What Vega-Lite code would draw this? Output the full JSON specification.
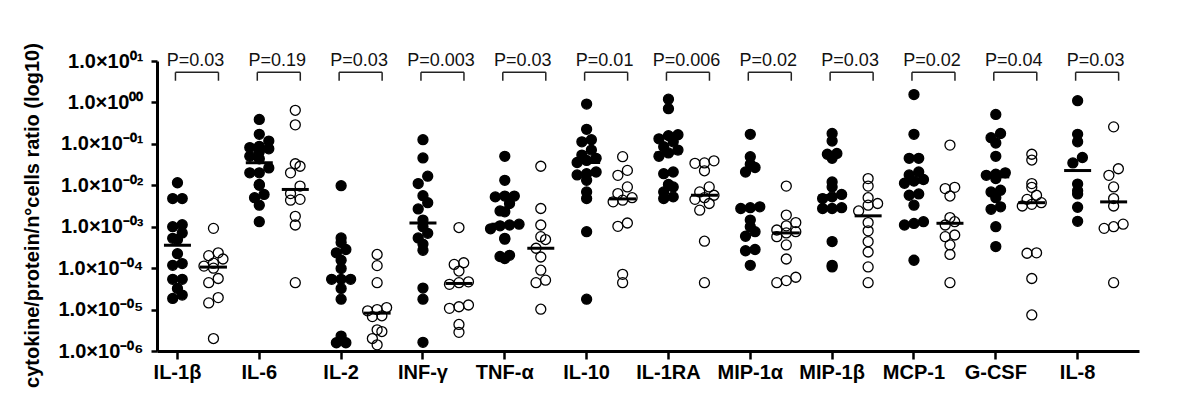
{
  "$schema": "https://vega.github.io/schema/vega-lite/v6.json",
  "width": 982,
  "height": 290,
  "autosize": {"type": "none"},
  "padding": {"left": 157, "top": 61, "right": 61, "bottom": 59},
  "background": "white",
  "config": {
    "view": {"stroke": null},
    "font": "Liberation Sans",
    "axis": {"grid": false, "domainColor": "black", "tickColor": "black", "labelColor": "black", "titleColor": "black", "labelFont": "Liberation Sans", "titleFont": "Liberation Sans"},
    "axisX": {"labelAngle": 0, "labelFontSize": 20, "labelFontWeight": "bold", "labelPadding": 3, "tickSize": 8, "tickWidth": 2.5, "domainWidth": 3},
    "axisY": {
      "labelFontSize": 20, "labelFontWeight": "bold", "labelPadding": 8,
      "tickSize": 6, "tickWidth": 2.5, "domainWidth": 3,
      "titleFontSize": 20, "titleFontWeight": "bold",
      "titleX": -119, "titleY": 154, "titleAngle": -90, "titleAlign": "center", "titleBaseline": "alphabetic"
    }
  },
  "datasets": {
    "points": [
      {"cytokine": "IL-1β", "group": "Group 1", "value": 0.0115},
      {"cytokine": "IL-1β", "group": "Group 1", "value": 0.00479},
      {"cytokine": "IL-1β", "group": "Group 1", "value": 0.00479},
      {"cytokine": "IL-1β", "group": "Group 1", "value": 0.00112},
      {"cytokine": "IL-1β", "group": "Group 1", "value": 0.001},
      {"cytokine": "IL-1β", "group": "Group 1", "value": 0.000708},
      {"cytokine": "IL-1β", "group": "Group 1", "value": 0.000525},
      {"cytokine": "IL-1β", "group": "Group 1", "value": 0.00049},
      {"cytokine": "IL-1β", "group": "Group 1", "value": 0.000224},
      {"cytokine": "IL-1β", "group": "Group 1", "value": 0.000129},
      {"cytokine": "IL-1β", "group": "Group 1", "value": 0.000117},
      {"cytokine": "IL-1β", "group": "Group 1", "value": 5.37e-5},
      {"cytokine": "IL-1β", "group": "Group 1", "value": 5.37e-5},
      {"cytokine": "IL-1β", "group": "Group 1", "value": 3.24e-5},
      {"cytokine": "IL-1β", "group": "Group 1", "value": 2.24e-5},
      {"cytokine": "IL-1β", "group": "Group 1", "value": 1.86e-5},
      {"cytokine": "IL-1β", "group": "Group 2", "value": 0.000912},
      {"cytokine": "IL-1β", "group": "Group 2", "value": 0.000234},
      {"cytokine": "IL-1β", "group": "Group 2", "value": 0.0002},
      {"cytokine": "IL-1β", "group": "Group 2", "value": 0.000166},
      {"cytokine": "IL-1β", "group": "Group 2", "value": 0.000132},
      {"cytokine": "IL-1β", "group": "Group 2", "value": 0.000112},
      {"cytokine": "IL-1β", "group": "Group 2", "value": 0.0001},
      {"cytokine": "IL-1β", "group": "Group 2", "value": 5.62e-5},
      {"cytokine": "IL-1β", "group": "Group 2", "value": 4.47e-5},
      {"cytokine": "IL-1β", "group": "Group 2", "value": 1.95e-5},
      {"cytokine": "IL-1β", "group": "Group 2", "value": 1.45e-5},
      {"cytokine": "IL-1β", "group": "Group 2", "value": 2.0e-6},
      {"cytokine": "IL-6", "group": "Group 1", "value": 0.389},
      {"cytokine": "IL-6", "group": "Group 1", "value": 0.17},
      {"cytokine": "IL-6", "group": "Group 1", "value": 0.117},
      {"cytokine": "IL-6", "group": "Group 1", "value": 0.0871},
      {"cytokine": "IL-6", "group": "Group 1", "value": 0.0813},
      {"cytokine": "IL-6", "group": "Group 1", "value": 0.0759},
      {"cytokine": "IL-6", "group": "Group 1", "value": 0.0646},
      {"cytokine": "IL-6", "group": "Group 1", "value": 0.0501},
      {"cytokine": "IL-6", "group": "Group 1", "value": 0.0437},
      {"cytokine": "IL-6", "group": "Group 1", "value": 0.0263},
      {"cytokine": "IL-6", "group": "Group 1", "value": 0.02},
      {"cytokine": "IL-6", "group": "Group 1", "value": 0.02},
      {"cytokine": "IL-6", "group": "Group 1", "value": 0.0105},
      {"cytokine": "IL-6", "group": "Group 1", "value": 0.01},
      {"cytokine": "IL-6", "group": "Group 1", "value": 0.00603},
      {"cytokine": "IL-6", "group": "Group 1", "value": 0.00501},
      {"cytokine": "IL-6", "group": "Group 1", "value": 0.00331},
      {"cytokine": "IL-6", "group": "Group 1", "value": 0.00132},
      {"cytokine": "IL-6", "group": "Group 2", "value": 0.646},
      {"cytokine": "IL-6", "group": "Group 2", "value": 0.288},
      {"cytokine": "IL-6", "group": "Group 2", "value": 0.0331},
      {"cytokine": "IL-6", "group": "Group 2", "value": 0.0288},
      {"cytokine": "IL-6", "group": "Group 2", "value": 0.02},
      {"cytokine": "IL-6", "group": "Group 2", "value": 0.00955},
      {"cytokine": "IL-6", "group": "Group 2", "value": 0.00631},
      {"cytokine": "IL-6", "group": "Group 2", "value": 0.00457},
      {"cytokine": "IL-6", "group": "Group 2", "value": 0.00437},
      {"cytokine": "IL-6", "group": "Group 2", "value": 0.00178},
      {"cytokine": "IL-6", "group": "Group 2", "value": 0.0011},
      {"cytokine": "IL-6", "group": "Group 2", "value": 4.47e-5},
      {"cytokine": "IL-2", "group": "Group 1", "value": 0.00977},
      {"cytokine": "IL-2", "group": "Group 1", "value": 0.000537},
      {"cytokine": "IL-2", "group": "Group 1", "value": 0.000417},
      {"cytokine": "IL-2", "group": "Group 1", "value": 0.000282},
      {"cytokine": "IL-2", "group": "Group 1", "value": 0.000234},
      {"cytokine": "IL-2", "group": "Group 1", "value": 0.000155},
      {"cytokine": "IL-2", "group": "Group 1", "value": 9.77e-5},
      {"cytokine": "IL-2", "group": "Group 1", "value": 5.37e-5},
      {"cytokine": "IL-2", "group": "Group 1", "value": 5.37e-5},
      {"cytokine": "IL-2", "group": "Group 1", "value": 5.37e-5},
      {"cytokine": "IL-2", "group": "Group 1", "value": 3.24e-5},
      {"cytokine": "IL-2", "group": "Group 1", "value": 1.78e-5},
      {"cytokine": "IL-2", "group": "Group 1", "value": 2.29e-6},
      {"cytokine": "IL-2", "group": "Group 1", "value": 1.58e-6},
      {"cytokine": "IL-2", "group": "Group 1", "value": 1.58e-6},
      {"cytokine": "IL-2", "group": "Group 2", "value": 0.000214},
      {"cytokine": "IL-2", "group": "Group 2", "value": 0.000115},
      {"cytokine": "IL-2", "group": "Group 2", "value": 4.47e-5},
      {"cytokine": "IL-2", "group": "Group 2", "value": 1.12e-5},
      {"cytokine": "IL-2", "group": "Group 2", "value": 1.0e-5},
      {"cytokine": "IL-2", "group": "Group 2", "value": 9.33e-6},
      {"cytokine": "IL-2", "group": "Group 2", "value": 7.08e-6},
      {"cytokine": "IL-2", "group": "Group 2", "value": 6.76e-6},
      {"cytokine": "IL-2", "group": "Group 2", "value": 3.24e-6},
      {"cytokine": "IL-2", "group": "Group 2", "value": 2.95e-6},
      {"cytokine": "IL-2", "group": "Group 2", "value": 2.0e-6},
      {"cytokine": "IL-2", "group": "Group 2", "value": 1.41e-6},
      {"cytokine": "INF-γ", "group": "Group 1", "value": 0.126},
      {"cytokine": "INF-γ", "group": "Group 1", "value": 0.0457},
      {"cytokine": "INF-γ", "group": "Group 1", "value": 0.0166},
      {"cytokine": "INF-γ", "group": "Group 1", "value": 0.011},
      {"cytokine": "INF-γ", "group": "Group 1", "value": 0.00562},
      {"cytokine": "INF-γ", "group": "Group 1", "value": 0.0038},
      {"cytokine": "INF-γ", "group": "Group 1", "value": 0.00269},
      {"cytokine": "INF-γ", "group": "Group 1", "value": 0.00145},
      {"cytokine": "INF-γ", "group": "Group 1", "value": 0.001},
      {"cytokine": "INF-γ", "group": "Group 1", "value": 0.000692},
      {"cytokine": "INF-γ", "group": "Group 1", "value": 0.000537},
      {"cytokine": "INF-γ", "group": "Group 1", "value": 0.00038},
      {"cytokine": "INF-γ", "group": "Group 1", "value": 0.000269},
      {"cytokine": "INF-γ", "group": "Group 1", "value": 3.31e-5},
      {"cytokine": "INF-γ", "group": "Group 1", "value": 1.78e-5},
      {"cytokine": "INF-γ", "group": "Group 1", "value": 1.62e-6},
      {"cytokine": "INF-γ", "group": "Group 2", "value": 0.000955},
      {"cytokine": "INF-γ", "group": "Group 2", "value": 0.000135},
      {"cytokine": "INF-γ", "group": "Group 2", "value": 0.000123},
      {"cytokine": "INF-γ", "group": "Group 2", "value": 8.51e-5},
      {"cytokine": "INF-γ", "group": "Group 2", "value": 4.68e-5},
      {"cytokine": "INF-γ", "group": "Group 2", "value": 4.47e-5},
      {"cytokine": "INF-γ", "group": "Group 2", "value": 4.07e-5},
      {"cytokine": "INF-γ", "group": "Group 2", "value": 1.29e-5},
      {"cytokine": "INF-γ", "group": "Group 2", "value": 1.17e-5},
      {"cytokine": "INF-γ", "group": "Group 2", "value": 1.07e-5},
      {"cytokine": "INF-γ", "group": "Group 2", "value": 4.37e-6},
      {"cytokine": "INF-γ", "group": "Group 2", "value": 2.82e-6},
      {"cytokine": "TNF-α", "group": "Group 1", "value": 0.0501},
      {"cytokine": "TNF-α", "group": "Group 1", "value": 0.0132},
      {"cytokine": "TNF-α", "group": "Group 1", "value": 0.0055},
      {"cytokine": "TNF-α", "group": "Group 1", "value": 0.0055},
      {"cytokine": "TNF-α", "group": "Group 1", "value": 0.00525},
      {"cytokine": "TNF-α", "group": "Group 1", "value": 0.00363},
      {"cytokine": "TNF-α", "group": "Group 1", "value": 0.0024},
      {"cytokine": "TNF-α", "group": "Group 1", "value": 0.00229},
      {"cytokine": "TNF-α", "group": "Group 1", "value": 0.00115},
      {"cytokine": "TNF-α", "group": "Group 1", "value": 0.0011},
      {"cytokine": "TNF-α", "group": "Group 1", "value": 0.00105},
      {"cytokine": "TNF-α", "group": "Group 1", "value": 0.000891},
      {"cytokine": "TNF-α", "group": "Group 1", "value": 0.000525},
      {"cytokine": "TNF-α", "group": "Group 1", "value": 0.000501},
      {"cytokine": "TNF-α", "group": "Group 1", "value": 0.000204},
      {"cytokine": "TNF-α", "group": "Group 1", "value": 0.000191},
      {"cytokine": "TNF-α", "group": "Group 1", "value": 0.00017},
      {"cytokine": "TNF-α", "group": "Group 2", "value": 0.0288},
      {"cytokine": "TNF-α", "group": "Group 2", "value": 0.00275},
      {"cytokine": "TNF-α", "group": "Group 2", "value": 0.0011},
      {"cytokine": "TNF-α", "group": "Group 2", "value": 0.000575},
      {"cytokine": "TNF-α", "group": "Group 2", "value": 0.00049},
      {"cytokine": "TNF-α", "group": "Group 2", "value": 0.000302},
      {"cytokine": "TNF-α", "group": "Group 2", "value": 0.000186},
      {"cytokine": "TNF-α", "group": "Group 2", "value": 8.91e-5},
      {"cytokine": "TNF-α", "group": "Group 2", "value": 5.13e-5},
      {"cytokine": "TNF-α", "group": "Group 2", "value": 4.47e-5},
      {"cytokine": "TNF-α", "group": "Group 2", "value": 1.02e-5},
      {"cytokine": "IL-10", "group": "Group 1", "value": 0.912},
      {"cytokine": "IL-10", "group": "Group 1", "value": 0.224},
      {"cytokine": "IL-10", "group": "Group 1", "value": 0.126},
      {"cytokine": "IL-10", "group": "Group 1", "value": 0.112},
      {"cytokine": "IL-10", "group": "Group 1", "value": 0.0708},
      {"cytokine": "IL-10", "group": "Group 1", "value": 0.0537},
      {"cytokine": "IL-10", "group": "Group 1", "value": 0.0447},
      {"cytokine": "IL-10", "group": "Group 1", "value": 0.0398},
      {"cytokine": "IL-10", "group": "Group 1", "value": 0.0355},
      {"cytokine": "IL-10", "group": "Group 1", "value": 0.0209},
      {"cytokine": "IL-10", "group": "Group 1", "value": 0.0191},
      {"cytokine": "IL-10", "group": "Group 1", "value": 0.0178},
      {"cytokine": "IL-10", "group": "Group 1", "value": 0.0132},
      {"cytokine": "IL-10", "group": "Group 1", "value": 0.00692},
      {"cytokine": "IL-10", "group": "Group 1", "value": 0.00479},
      {"cytokine": "IL-10", "group": "Group 1", "value": 0.000759},
      {"cytokine": "IL-10", "group": "Group 1", "value": 1.78e-5},
      {"cytokine": "IL-10", "group": "Group 2", "value": 0.049},
      {"cytokine": "IL-10", "group": "Group 2", "value": 0.0229},
      {"cytokine": "IL-10", "group": "Group 2", "value": 0.0174},
      {"cytokine": "IL-10", "group": "Group 2", "value": 0.00912},
      {"cytokine": "IL-10", "group": "Group 2", "value": 0.00631},
      {"cytokine": "IL-10", "group": "Group 2", "value": 0.00501},
      {"cytokine": "IL-10", "group": "Group 2", "value": 0.00437},
      {"cytokine": "IL-10", "group": "Group 2", "value": 0.00398},
      {"cytokine": "IL-10", "group": "Group 2", "value": 0.00123},
      {"cytokine": "IL-10", "group": "Group 2", "value": 0.00102},
      {"cytokine": "IL-10", "group": "Group 2", "value": 7.08e-5},
      {"cytokine": "IL-10", "group": "Group 2", "value": 4.47e-5},
      {"cytokine": "IL-1RA", "group": "Group 1", "value": 1.2},
      {"cytokine": "IL-1RA", "group": "Group 1", "value": 0.708},
      {"cytokine": "IL-1RA", "group": "Group 1", "value": 0.166},
      {"cytokine": "IL-1RA", "group": "Group 1", "value": 0.158},
      {"cytokine": "IL-1RA", "group": "Group 1", "value": 0.132},
      {"cytokine": "IL-1RA", "group": "Group 1", "value": 0.112},
      {"cytokine": "IL-1RA", "group": "Group 1", "value": 0.0851},
      {"cytokine": "IL-1RA", "group": "Group 1", "value": 0.0708},
      {"cytokine": "IL-1RA", "group": "Group 1", "value": 0.0603},
      {"cytokine": "IL-1RA", "group": "Group 1", "value": 0.0501},
      {"cytokine": "IL-1RA", "group": "Group 1", "value": 0.0209},
      {"cytokine": "IL-1RA", "group": "Group 1", "value": 0.0191},
      {"cytokine": "IL-1RA", "group": "Group 1", "value": 0.0105},
      {"cytokine": "IL-1RA", "group": "Group 1", "value": 0.00912},
      {"cytokine": "IL-1RA", "group": "Group 1", "value": 0.00692},
      {"cytokine": "IL-1RA", "group": "Group 1", "value": 0.00525},
      {"cytokine": "IL-1RA", "group": "Group 1", "value": 0.00479},
      {"cytokine": "IL-1RA", "group": "Group 2", "value": 0.0389},
      {"cytokine": "IL-1RA", "group": "Group 2", "value": 0.0347},
      {"cytokine": "IL-1RA", "group": "Group 2", "value": 0.0339},
      {"cytokine": "IL-1RA", "group": "Group 2", "value": 0.0224},
      {"cytokine": "IL-1RA", "group": "Group 2", "value": 0.00912},
      {"cytokine": "IL-1RA", "group": "Group 2", "value": 0.00692},
      {"cytokine": "IL-1RA", "group": "Group 2", "value": 0.00575},
      {"cytokine": "IL-1RA", "group": "Group 2", "value": 0.00501},
      {"cytokine": "IL-1RA", "group": "Group 2", "value": 0.00457},
      {"cytokine": "IL-1RA", "group": "Group 2", "value": 0.00363},
      {"cytokine": "IL-1RA", "group": "Group 2", "value": 0.00251},
      {"cytokine": "IL-1RA", "group": "Group 2", "value": 0.000447},
      {"cytokine": "IL-1RA", "group": "Group 2", "value": 4.47e-5},
      {"cytokine": "MIP-1α", "group": "Group 1", "value": 0.17},
      {"cytokine": "MIP-1α", "group": "Group 1", "value": 0.049},
      {"cytokine": "MIP-1α", "group": "Group 1", "value": 0.0324},
      {"cytokine": "MIP-1α", "group": "Group 1", "value": 0.0269},
      {"cytokine": "MIP-1α", "group": "Group 1", "value": 0.0209},
      {"cytokine": "MIP-1α", "group": "Group 1", "value": 0.00302},
      {"cytokine": "MIP-1α", "group": "Group 1", "value": 0.00288},
      {"cytokine": "MIP-1α", "group": "Group 1", "value": 0.00275},
      {"cytokine": "MIP-1α", "group": "Group 1", "value": 0.00145},
      {"cytokine": "MIP-1α", "group": "Group 1", "value": 0.001},
      {"cytokine": "MIP-1α", "group": "Group 1", "value": 0.000759},
      {"cytokine": "MIP-1α", "group": "Group 1", "value": 0.000589},
      {"cytokine": "MIP-1α", "group": "Group 1", "value": 0.000282},
      {"cytokine": "MIP-1α", "group": "Group 1", "value": 0.000263},
      {"cytokine": "MIP-1α", "group": "Group 1", "value": 0.000117},
      {"cytokine": "MIP-1α", "group": "Group 2", "value": 0.00955},
      {"cytokine": "MIP-1α", "group": "Group 2", "value": 0.00191},
      {"cytokine": "MIP-1α", "group": "Group 2", "value": 0.00126},
      {"cytokine": "MIP-1α", "group": "Group 2", "value": 0.00105},
      {"cytokine": "MIP-1α", "group": "Group 2", "value": 0.000832},
      {"cytokine": "MIP-1α", "group": "Group 2", "value": 0.000759},
      {"cytokine": "MIP-1α", "group": "Group 2", "value": 0.000708},
      {"cytokine": "MIP-1α", "group": "Group 2", "value": 0.000575},
      {"cytokine": "MIP-1α", "group": "Group 2", "value": 0.000363},
      {"cytokine": "MIP-1α", "group": "Group 2", "value": 0.000166},
      {"cytokine": "MIP-1α", "group": "Group 2", "value": 6.03e-5},
      {"cytokine": "MIP-1α", "group": "Group 2", "value": 5.01e-5},
      {"cytokine": "MIP-1α", "group": "Group 2", "value": 4.47e-5},
      {"cytokine": "MIP-1β", "group": "Group 1", "value": 0.178},
      {"cytokine": "MIP-1β", "group": "Group 1", "value": 0.117},
      {"cytokine": "MIP-1β", "group": "Group 1", "value": 0.0589},
      {"cytokine": "MIP-1β", "group": "Group 1", "value": 0.0562},
      {"cytokine": "MIP-1β", "group": "Group 1", "value": 0.0447},
      {"cytokine": "MIP-1β", "group": "Group 1", "value": 0.012},
      {"cytokine": "MIP-1β", "group": "Group 1", "value": 0.00912},
      {"cytokine": "MIP-1β", "group": "Group 1", "value": 0.00603},
      {"cytokine": "MIP-1β", "group": "Group 1", "value": 0.00525},
      {"cytokine": "MIP-1β", "group": "Group 1", "value": 0.00479},
      {"cytokine": "MIP-1β", "group": "Group 1", "value": 0.00288},
      {"cytokine": "MIP-1β", "group": "Group 1", "value": 0.00275},
      {"cytokine": "MIP-1β", "group": "Group 1", "value": 0.00275},
      {"cytokine": "MIP-1β", "group": "Group 1", "value": 0.000437},
      {"cytokine": "MIP-1β", "group": "Group 1", "value": 0.000117},
      {"cytokine": "MIP-1β", "group": "Group 1", "value": 0.000107},
      {"cytokine": "MIP-1β", "group": "Group 2", "value": 0.0145},
      {"cytokine": "MIP-1β", "group": "Group 2", "value": 0.00955},
      {"cytokine": "MIP-1β", "group": "Group 2", "value": 0.00501},
      {"cytokine": "MIP-1β", "group": "Group 2", "value": 0.00363},
      {"cytokine": "MIP-1β", "group": "Group 2", "value": 0.00331},
      {"cytokine": "MIP-1β", "group": "Group 2", "value": 0.0024},
      {"cytokine": "MIP-1β", "group": "Group 2", "value": 0.00126},
      {"cytokine": "MIP-1β", "group": "Group 2", "value": 0.000794},
      {"cytokine": "MIP-1β", "group": "Group 2", "value": 0.000437},
      {"cytokine": "MIP-1β", "group": "Group 2", "value": 0.000245},
      {"cytokine": "MIP-1β", "group": "Group 2", "value": 0.000107},
      {"cytokine": "MIP-1β", "group": "Group 2", "value": 4.47e-5},
      {"cytokine": "MCP-1", "group": "Group 1", "value": 1.55},
      {"cytokine": "MCP-1", "group": "Group 1", "value": 0.17},
      {"cytokine": "MCP-1", "group": "Group 1", "value": 0.0447},
      {"cytokine": "MCP-1", "group": "Group 1", "value": 0.0447},
      {"cytokine": "MCP-1", "group": "Group 1", "value": 0.0209},
      {"cytokine": "MCP-1", "group": "Group 1", "value": 0.0178},
      {"cytokine": "MCP-1", "group": "Group 1", "value": 0.0138},
      {"cytokine": "MCP-1", "group": "Group 1", "value": 0.0126},
      {"cytokine": "MCP-1", "group": "Group 1", "value": 0.0112},
      {"cytokine": "MCP-1", "group": "Group 1", "value": 0.00617},
      {"cytokine": "MCP-1", "group": "Group 1", "value": 0.00575},
      {"cytokine": "MCP-1", "group": "Group 1", "value": 0.00331},
      {"cytokine": "MCP-1", "group": "Group 1", "value": 0.00132},
      {"cytokine": "MCP-1", "group": "Group 1", "value": 0.0012},
      {"cytokine": "MCP-1", "group": "Group 1", "value": 0.0011},
      {"cytokine": "MCP-1", "group": "Group 1", "value": 0.000155},
      {"cytokine": "MCP-1", "group": "Group 2", "value": 0.0933},
      {"cytokine": "MCP-1", "group": "Group 2", "value": 0.00891},
      {"cytokine": "MCP-1", "group": "Group 2", "value": 0.00832},
      {"cytokine": "MCP-1", "group": "Group 2", "value": 0.0055},
      {"cytokine": "MCP-1", "group": "Group 2", "value": 0.00166},
      {"cytokine": "MCP-1", "group": "Group 2", "value": 0.00132},
      {"cytokine": "MCP-1", "group": "Group 2", "value": 0.0011},
      {"cytokine": "MCP-1", "group": "Group 2", "value": 0.000631},
      {"cytokine": "MCP-1", "group": "Group 2", "value": 0.000575},
      {"cytokine": "MCP-1", "group": "Group 2", "value": 0.000363},
      {"cytokine": "MCP-1", "group": "Group 2", "value": 0.000214},
      {"cytokine": "MCP-1", "group": "Group 2", "value": 4.47e-5},
      {"cytokine": "G-CSF", "group": "Group 1", "value": 0.513},
      {"cytokine": "G-CSF", "group": "Group 1", "value": 0.178},
      {"cytokine": "G-CSF", "group": "Group 1", "value": 0.141},
      {"cytokine": "G-CSF", "group": "Group 1", "value": 0.105},
      {"cytokine": "G-CSF", "group": "Group 1", "value": 0.0501},
      {"cytokine": "G-CSF", "group": "Group 1", "value": 0.02},
      {"cytokine": "G-CSF", "group": "Group 1", "value": 0.0186},
      {"cytokine": "G-CSF", "group": "Group 1", "value": 0.0174},
      {"cytokine": "G-CSF", "group": "Group 1", "value": 0.0145},
      {"cytokine": "G-CSF", "group": "Group 1", "value": 0.00759},
      {"cytokine": "G-CSF", "group": "Group 1", "value": 0.00692},
      {"cytokine": "G-CSF", "group": "Group 1", "value": 0.00501},
      {"cytokine": "G-CSF", "group": "Group 1", "value": 0.00302},
      {"cytokine": "G-CSF", "group": "Group 1", "value": 0.00263},
      {"cytokine": "G-CSF", "group": "Group 1", "value": 0.001},
      {"cytokine": "G-CSF", "group": "Group 1", "value": 0.000331},
      {"cytokine": "G-CSF", "group": "Group 2", "value": 0.0562},
      {"cytokine": "G-CSF", "group": "Group 2", "value": 0.0407},
      {"cytokine": "G-CSF", "group": "Group 2", "value": 0.011},
      {"cytokine": "G-CSF", "group": "Group 2", "value": 0.00891},
      {"cytokine": "G-CSF", "group": "Group 2", "value": 0.00575},
      {"cytokine": "G-CSF", "group": "Group 2", "value": 0.00457},
      {"cytokine": "G-CSF", "group": "Group 2", "value": 0.0038},
      {"cytokine": "G-CSF", "group": "Group 2", "value": 0.00347},
      {"cytokine": "G-CSF", "group": "Group 2", "value": 0.00316},
      {"cytokine": "G-CSF", "group": "Group 2", "value": 0.000234},
      {"cytokine": "G-CSF", "group": "Group 2", "value": 0.000229},
      {"cytokine": "G-CSF", "group": "Group 2", "value": 5.62e-5},
      {"cytokine": "G-CSF", "group": "Group 2", "value": 7.41e-6},
      {"cytokine": "IL-8", "group": "Group 1", "value": 1.1},
      {"cytokine": "IL-8", "group": "Group 1", "value": 0.17},
      {"cytokine": "IL-8", "group": "Group 1", "value": 0.112},
      {"cytokine": "IL-8", "group": "Group 1", "value": 0.0468},
      {"cytokine": "IL-8", "group": "Group 1", "value": 0.0347},
      {"cytokine": "IL-8", "group": "Group 1", "value": 0.0107},
      {"cytokine": "IL-8", "group": "Group 1", "value": 0.00741},
      {"cytokine": "IL-8", "group": "Group 1", "value": 0.00617},
      {"cytokine": "IL-8", "group": "Group 1", "value": 0.00295},
      {"cytokine": "IL-8", "group": "Group 1", "value": 0.00135},
      {"cytokine": "IL-8", "group": "Group 2", "value": 0.257},
      {"cytokine": "IL-8", "group": "Group 2", "value": 0.0251},
      {"cytokine": "IL-8", "group": "Group 2", "value": 0.0174},
      {"cytokine": "IL-8", "group": "Group 2", "value": 0.00912},
      {"cytokine": "IL-8", "group": "Group 2", "value": 0.00479},
      {"cytokine": "IL-8", "group": "Group 2", "value": 0.00316},
      {"cytokine": "IL-8", "group": "Group 2", "value": 0.00115},
      {"cytokine": "IL-8", "group": "Group 2", "value": 0.001},
      {"cytokine": "IL-8", "group": "Group 2", "value": 0.000912},
      {"cytokine": "IL-8", "group": "Group 2", "value": 4.47e-5}
    ],
    "pvalues": [
      {"cytokine": "IL-1β", "p": "P=0.03"},
      {"cytokine": "IL-6", "p": "P=0.19"},
      {"cytokine": "IL-2", "p": "P=0.03"},
      {"cytokine": "INF-γ", "p": "P=0.003"},
      {"cytokine": "TNF-α", "p": "P=0.03"},
      {"cytokine": "IL-10", "p": "P=0.01"},
      {"cytokine": "IL-1RA", "p": "P=0.006"},
      {"cytokine": "MIP-1α", "p": "P=0.02"},
      {"cytokine": "MIP-1β", "p": "P=0.03"},
      {"cytokine": "MCP-1", "p": "P=0.02"},
      {"cytokine": "G-CSF", "p": "P=0.04"},
      {"cytokine": "IL-8", "p": "P=0.03"}
    ]
  },
  "encoding": {
    "x": {
      "field": "cytokine", "type": "nominal", "title": null,
      "scale": {"type": "band", "domain": ["IL-1β", "IL-6", "IL-2", "INF-γ", "TNF-α", "IL-10", "IL-1RA", "MIP-1α", "MIP-1β", "MCP-1", "G-CSF", "IL-8"], "paddingInner": 0, "paddingOuter": 0},
      "axis": {"bandPosition": 0.25, "labelOffset": -20.46}
    }
  },
  "layer": [
    {
      "data": {"name": "points"},
      "transform": [
        {"calculate": "log(datum.value) / LN10", "as": "lv"},
        {"calculate": "floor(datum.lv / 0.22)", "as": "bin"},
        {"window": [{"op": "row_number", "as": "rk"}], "groupby": ["cytokine", "group", "bin"], "sort": [{"field": "lv"}]},
        {"joinaggregate": [{"op": "count", "as": "n"}], "groupby": ["cytokine", "group", "bin"]},
        {"calculate": "(datum.group === 'Group 2' ? 36 : 0) + (datum.rk - (datum.n + 1) / 2) * 9.5", "as": "jx"}
      ],
      "layer": [
        {
          "mark": {"type": "point", "shape": "circle", "filled": true, "size": 100, "stroke": "black", "strokeWidth": 1.3, "opacity": 1},
          "encoding": {
            "xOffset": {"field": "jx", "type": "quantitative", "scale": {"domain": [-20.46, 61.37], "range": [0, 81.83], "nice": false, "zero": false}},
            "y": {
              "field": "value", "type": "quantitative", "title": "cytokine/protein/n°cells ratio (log10)",
              "scale": {"type": "log", "domain": [1e-6, 10], "nice": false},
              "axis": {
                "values": [1e-6, 1e-5, 1e-4, 1e-3, 1e-2, 1e-1, 1, 10],
                "labelExpr": "'1.0×10' + (datum.value < 0.5 ? '⁻' : '') + '⁰' + ['⁰','¹','²','³','⁴','⁵','⁶'][round(abs(log(datum.value) / LN10))]"
              }
            },
            "fill": {"field": "group", "type": "nominal", "scale": {"domain": ["Group 1", "Group 2"], "range": ["black", "transparent"]}, "legend": null}
          }
        },
        {
          "transform": [
            {"aggregate": [{"op": "median", "field": "value", "as": "value"}], "groupby": ["cytokine", "group"]},
            {"calculate": "datum.group === 'Group 2' ? 36 : 0", "as": "gx"}
          ],
          "mark": {"type": "tick", "orient": "horizontal", "size": 27, "thickness": 3, "color": "black", "opacity": 1},
          "encoding": {
            "xOffset": {"field": "gx", "type": "quantitative"},
            "y": {"field": "value", "type": "quantitative", "title": "cytokine/protein/n°cells ratio (log10)", "scale": {"type": "log", "domain": [1e-6, 10], "nice": false}}
          }
        }
      ]
    },
    {
      "data": {"name": "pvalues"},
      "layer": [
        {
          "mark": {"type": "text", "fontSize": 18, "baseline": "middle", "align": "center", "color": "#111", "font": "Liberation Sans"},
          "encoding": {
            "xOffset": {"datum": 18},
            "y": {"datum": 10, "type": "quantitative", "title": "cytokine/protein/n°cells ratio (log10)", "scale": {"type": "log", "domain": [1e-6, 10], "nice": false}},
            "text": {"field": "p"}
          }
        },
        {
          "mark": {"type": "tick", "orient": "horizontal", "size": 43, "thickness": 1.5, "color": "#222", "opacity": 1},
          "encoding": {
            "xOffset": {"datum": 19.5},
            "y": {"datum": 5.33, "type": "quantitative", "title": "cytokine/protein/n°cells ratio (log10)", "scale": {"type": "log", "domain": [1e-6, 10], "nice": false}}
          }
        },
        {
          "mark": {"type": "rule", "strokeWidth": 1.5, "color": "#222"},
          "encoding": {
            "xOffset": {"datum": -2},
            "y": {"datum": 5.33, "type": "quantitative", "title": "cytokine/protein/n°cells ratio (log10)", "scale": {"type": "log", "domain": [1e-6, 10], "nice": false}},
            "y2": {"datum": 3.34}
          }
        },
        {
          "mark": {"type": "rule", "strokeWidth": 1.5, "color": "#222"},
          "encoding": {
            "xOffset": {"datum": 41},
            "y": {"datum": 5.33, "type": "quantitative", "title": "cytokine/protein/n°cells ratio (log10)", "scale": {"type": "log", "domain": [1e-6, 10], "nice": false}},
            "y2": {"datum": 3.34}
          }
        }
      ]
    }
  ]
}
